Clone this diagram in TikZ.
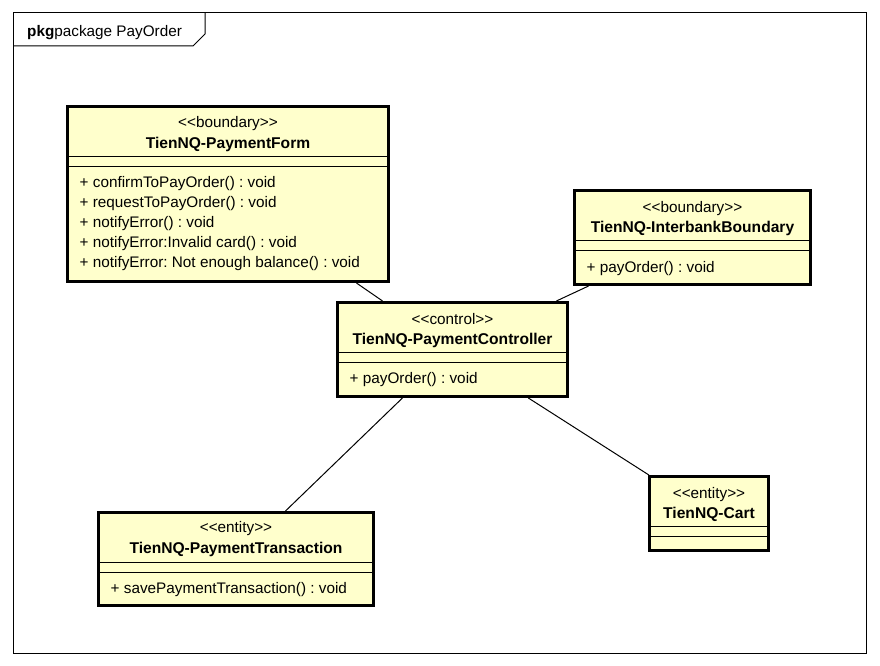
\documentclass[tikz,border=0pt]{standalone}
\usepackage{xcolor}
\usepackage{fontspec}
\setmainfont{Liberation Sans}
\usepackage{tikz}
\usetikzlibrary{positioning}
\definecolor{classyellow}{RGB}{255,255,204}
\frenchspacing

\begin{document}
\begin{tikzpicture}[x=1pt, y=-1pt,
    font=\fontsize{15.3}{18}\selectfont,
    classbox/.style={draw, rectangle, line width=3pt, fill=classyellow, inner sep=0pt},
    sepline/.style={line width=1pt},
    stereo/.style={anchor=base, inner sep=0pt},
    classname/.style={anchor=base, inner sep=0pt, font=\fontsize{15.6}{18}\selectfont\bfseries},
    oper/.style={anchor=base west, inner sep=0pt},
    assoc/.style={line width=1pt}]
    \useasboundingbox (0,0) rectangle (880,666);
    % Package frame
    \draw[line width=1pt] (13,13) rectangle (866,653);
    \draw[line width=1pt] (13,46) -- (193,46) -- (205,34) -- (205,13);
    \node[oper] (pkg) at (27,37) {\textbf{pkg}package PayOrder};
    % Class boxes
    \node[classbox, minimum width=321pt, minimum height=175pt] (form) at (228,194) {};
    \node[classbox, minimum width=230pt, minimum height=94pt] (ctrl) at (452.5,349.5) {};
    \node[classbox, minimum width=236pt, minimum height=94pt] (inter) at (692.5,237.5) {};
    \node[classbox, minimum width=275pt, minimum height=93pt] (trans) at (236,559) {};
    \node[classbox, minimum width=119pt, minimum height=74pt] (cart) at (709,513.5) {};
    % Associations
    \draw[assoc] (form) -- (ctrl);
    \draw[assoc] (inter) -- (ctrl);
    \draw[assoc] (ctrl) -- (trans);
    \draw[assoc] (ctrl) -- (cart);
    % TienNQ-PaymentForm
    \node[stereo] (formst) at (228,128) {<{}<boundary>{}>};
    \node[classname] (formname) at (228,148) {TienNQ-PaymentForm};
    \draw[sepline] (form.west |- 0,156) -- (form.east |- 0,156);
    \draw[sepline] (form.west |- 0,166) -- (form.east |- 0,166);
    \node[oper] (formop1) at (79.5,187) {+ confirmToPayOrder() : void};
    \node[oper] (formop2) at (79.5,207) {+ requestToPayOrder() : void};
    \node[oper] (formop3) at (79.5,227) {+ notifyError() : void};
    \node[oper] (formop4) at (79.5,247) {+ notifyError:Invalid card() : void};
    \node[oper] (formop5) at (79.5,267) {+ notifyError: Not enough balance() : void};
    % TienNQ-PaymentController
    \node[stereo] (ctrlst) at (452.5,324) {<{}<control>{}>};
    \node[classname] (ctrlname) at (452.5,344) {TienNQ-PaymentController};
    \draw[sepline] (ctrl.west |- 0,352) -- (ctrl.east |- 0,352);
    \draw[sepline] (ctrl.west |- 0,362) -- (ctrl.east |- 0,362);
    \node[oper] (ctrlop1) at (349.5,383) {+ payOrder() : void};
    % TienNQ-InterbankBoundary
    \node[stereo] (interst) at (692.5,212) {<{}<boundary>{}>};
    \node[classname] (intername) at (692.5,232) {TienNQ-InterbankBoundary};
    \draw[sepline] (inter.west |- 0,240) -- (inter.east |- 0,240);
    \draw[sepline] (inter.west |- 0,250) -- (inter.east |- 0,250);
    \node[oper] (interop1) at (586.5,272) {+ payOrder() : void};
    % TienNQ-PaymentTransaction
    \node[stereo] (transst) at (236,532) {<{}<entity>{}>};
    \node[classname] (transname) at (236,553) {TienNQ-PaymentTransaction};
    \draw[sepline] (trans.west |- 0,562) -- (trans.east |- 0,562);
    \draw[sepline] (trans.west |- 0,572) -- (trans.east |- 0,572);
    \node[oper] (transop1) at (110.5,593) {+ savePaymentTransaction() : void};
    % TienNQ-Cart
    \node[stereo] (cartst) at (709,498) {<{}<entity>{}>};
    \node[classname] (cartname) at (709,518) {TienNQ-Cart};
    \draw[sepline] (cart.west |- 0,526) -- (cart.east |- 0,526);
    \draw[sepline] (cart.west |- 0,536) -- (cart.east |- 0,536);
\end{tikzpicture}
\end{document}
